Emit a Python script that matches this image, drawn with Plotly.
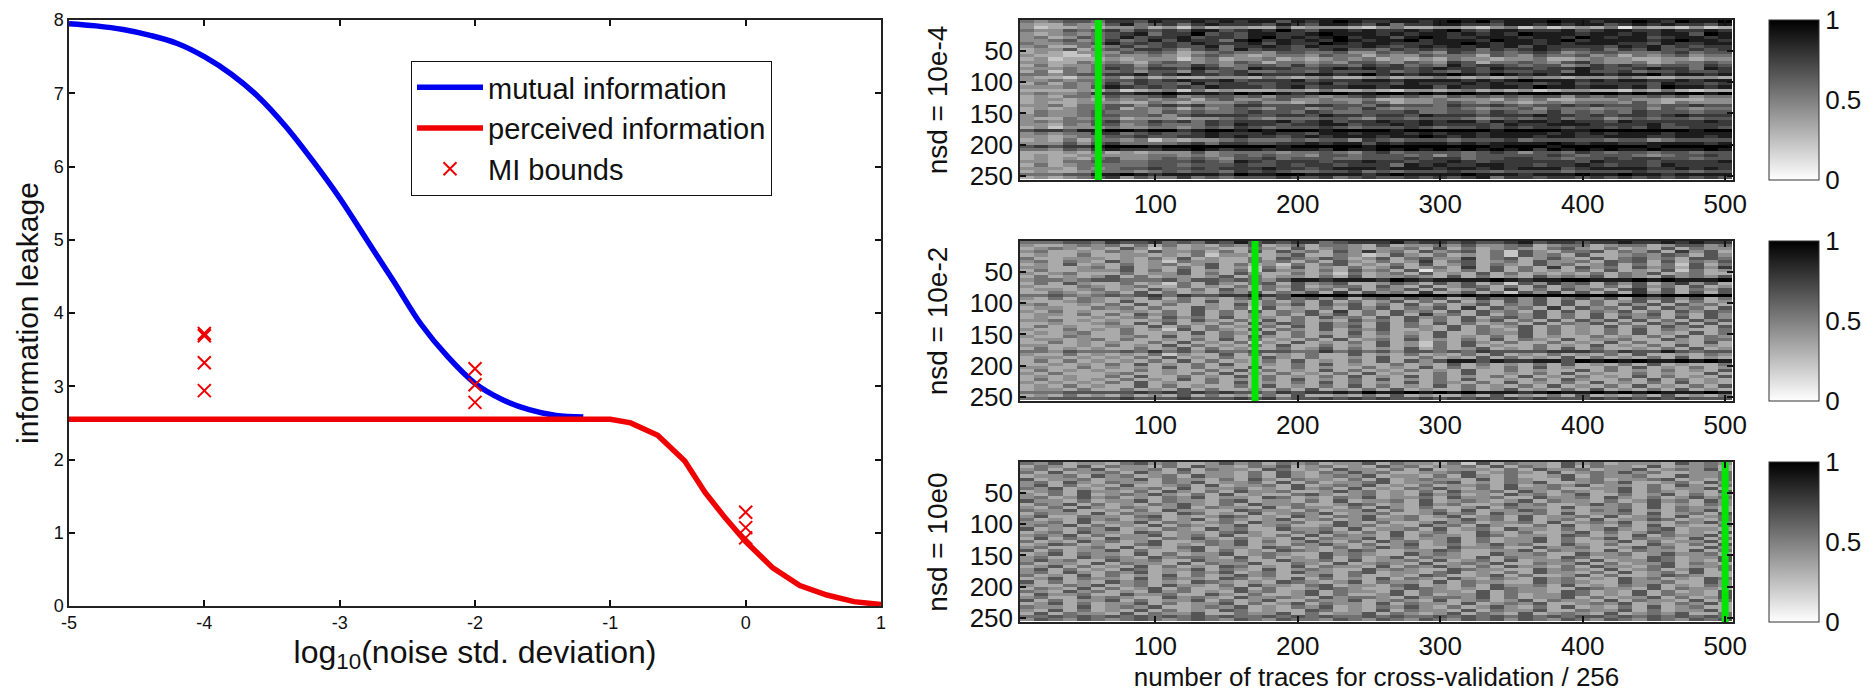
import plotly.graph_objects as go

W, H = 1874, 693
MR = 4

noise_x = [-5, -4.8, -4.6, -4.4, -4.2, -4, -3.8, -3.6, -3.4, -3.2, -3, -2.8, -2.6, -2.4, -2.2, -2, -1.8, -1.6, -1.4, -1.2]
mutual_info = [7.95, 7.92, 7.87, 7.79, 7.68, 7.5, 7.26, 6.95, 6.55, 6.08, 5.57, 5.0, 4.43, 3.85, 3.4, 3.04, 2.82, 2.68, 2.6, 2.58]
perceived_x = [-5, -4, -3, -2, -1.5, -1.2, -1, -0.85, -0.65, -0.45, -0.3, -0.15, 0, 0.2, 0.4, 0.6, 0.8, 1]
perceived_info = [2.55, 2.55, 2.55, 2.55, 2.55, 2.56, 2.55, 2.5, 2.33, 1.98, 1.55, 1.2, 0.88, 0.52, 0.28, 0.15, 0.06, 0.02]
bounds_x = [-4, -4, -4, -4, -2, -2, -2, 0, 0, 0]
bounds_y = [3.72, 3.69, 3.32, 2.94, 3.24, 3.02, 2.78, 1.28, 1.07, 0.93]

traces_x = [10 * k for k in range(1, 51)]
keys_y = [3 + 5 * k for k in range(51)]
green_pos = [60, 170, 500]
panel_labels = ["nsd = 10e-4", "nsd = 10e-2", "nsd = 10e0"]

# Grey levels, one digit per cell: 0 = white, 9 = black.
panel_a = [
"54566577687787878868789877887898978889887889879889",
"43354468567578777687688768577887768878788678787768",
"42334344534253443363444324533443245242343514332423",
"54465675767688678797688787787897688777867887787787",
"43454567857796768877898887878878787988878878788698",
"45346568677867768978789788689877888788798788678878",
"44564575686877589787879878897888798878978888789887",
"54455686767687778687798788777889878878788877687788",
"45335457567668577876877787678787878687777687867677",
"34463565776467586776678665767677576787667576866767",
"34324446565345655466556446565476565676456655567566",
"43322454454356543455465535446555365465564535456455",
"34233343444245344534345453434354434453345443344344",
"44335454356545465355454665465476355654675445345565",
"35344566465576456657566576756586776566457676566576",
"44454576577687658776678787767877687767787667877587",
"35254556466475675566576667567657676677586675667667",
"55456677867877678777887897878898798787888788978878",
"43324453534334443543453345344543434544344454334443",
"44545566767877867778677788788887878988878788778788",
"35354575766586776677786777687778787767867777687767",
"44454687676768777678677887888687788798878878698878",
"33334352345253433344353343244345343423443324353233",
"45445777889888798987899889989899898999889989889989",
"34355465567456656466545676565465656566465655656455",
"34434354545535644564454453344544435453344454433344",
"34334443354344456443455465344565454345455546435444",
"44535566467675577666776657666576676566767666566766",
"34345563545354565466456575455565455646554556465455",
"35445655546565567665765566675566576557565657666566",
"45445665564677776677687767768777677787767677678777",
"43354553444344565455566546656665456567566456566566",
"45455675576757677786786778778788687887877687777787",
"44354664565557687767788677878777768778887777867777",
"34244454455456576566676566676566767677677676866776",
"67768899899789989899989999899999989999889999999899",
"45455775676678777877688788878788788887878788878888",
"44345566766778787767878887889878788878877888778878",
"34353554524344565556566476566656667566666566456666",
"44464675555675776677878868788878788889878877888878",
"67677899989999999989999989999999989998999999899999",
"55465787778898788788879889898989898979898988988898",
"33343534344464555545565467566665676466576566566566",
"34334444455454565655466566656465666667656665456676",
"34343564456565466756665566676775667766566767766566",
"44355665566676587677767787767787677777768777677778",
"35345555566566676676776777587877887767787677687777",
"44435456676676777877678887888788787888678888778787",
"34334555456566576765566756566676656666566667666566",
"55566889878888798899888878988889888788898898878888",
"34345674655756566676675676676767857767767676767676",
]

panel_b = [
"55566576675657686767756777867767667867767787787877",
"43345453535343546345355436344546445634553455346645",
"34543436424344335436345434453635345435643534363544",
"45334354364453536364536474536456352643556354637463",
"34335334434352443346335423643534352645363345465364",
"53344434353634335365465346356447356346436356453665",
"45354364342544335453536435347356345364453656363546",
"34363435345346353425356343536346354364534635352635",
"44334536343536342536343534634537363537364536453647",
"35334446353634352644353645361435363534353634362534",
"43453335344635364335342534536343635343435354634533",
"35343463534434635344353634454363534364546354364546",
"45545665556466565468878887987888898788998889898889",
"35364335342536435636456334653646352647563646357463",
"43335434533534353546345536436346535363543536453634",
"34434534364353643536453635463634637353645367363546",
"33543453635343546354637364537346352647363637463636",
"55654565675766778769999899999989899999999999899999",
"43535434363534356465646356465634756463564636564635",
"33345436334536343535363534635363536463635346363534",
"45334353635334363546364635363534635463635364636453",
"34433545353364352634353646354637364537364536364536",
"43534334435363536354637353645363645363635463536465",
"34435353645363534353646353637453635463536354635364",
"34333434536453634435364536364536356463536364536364",
"44534343345364353635343645363536463536364636353646",
"33433453636343536465364536353635345363546353646363",
"35343344363535343536364636354363534635343635364636",
"43353435342635436354363546334363543635343536354335",
"34345335334363543635343635343633544635343536343635",
"43354334536343536435363534353634353634335343536354",
"34434535334353635343536345363435363543634453364355",
"33534343353634352436343536342536435335343635334363",
"44334353436353435363353436342536343353436343536343",
"35343433534635343353463534363534634353635334353634",
"55465556575646556665575656466565766667776576686566",
"43353434352433635343533634353435363435343536334354",
"34434343536343533643533436335343635343635343536343",
"35353434353635343536343536364688687788698989889898",
"33434353634353633435363433534363534353634353634335",
"44335343436353436335343353436353435363433536343534",
"35343433534335363534363534353436335343363534353436",
"43533345334353634353435363433536334353634335343363",
"34343353633534363534353634363534353634353436353436",
"35343435343635343536343536343536334353643353635343",
"43434353634335363435363534363543536343536343536343",
"34353433635343353634353635343635343536343536343536",
"34435335343635334353634353634335346343536343536343",
"55566666767676766576778798898989888789889898988898",
"34353435343635343536334353634335363435363435363435",
"55666667666766676756676767667676767676667676767666",
]

panel_c = [
"54634435645334645354534463544352635443645344436454",
"35436354435364435463453436453445363543635443634453",
"45354634453635443653436443536344435364453446345463",
"53634453643534435364354645334456345436345464533445",
"34453645345364435364345463443536435334635445336445",
"63445344635443536435443536345443635433645344563435",
"45364354435463445363534456344563435463345463345364",
"46353436334536344536345463435344536345463443536435",
"54634354453634453436453634354643536445334463534463",
"34536443536435364453346453435364453643543463543436",
"43536345464353634335643453436453436453463353463534",
"45346453435463443653435463445364453364453643534645",
"64435344635443563443536344536345434635443534645364",
"35463534354643536445334653436453346453346453634354",
"43536435434635443635443536435334635443634453635443",
"54463343536443365443534463534536344653435463435463",
"35443635443653436345463445334645364453634453634536",
"46335443563434653436435463453463453634453634536345",
"53436453453463543463453464453346453634536344653435",
"44536344635434536445336435334645344536345463435464",
"45463534363543463453346453436453643353634353634335",
"63435463435436453364453634453634536443534643563443",
"34536443653443564335464353634533643533463534653436",
"45463534463453634353635443635443653443653436354463",
"36354364435464353436354463534463534463534635443635",
"53436453463345463534643536453463534463533463534463",
"34653433563435463435464353463453464533643533643536",
"45334536343563443653435346453364453364453346453364",
"63534463533463534365434653344653344635443635443635",
"34635443635344634543364543364543364453364453464453",
"45336454364554363534363534635443635443653443653446",
"46453364453364453364453634453634536344536344653436",
"53443635443635446335436345436345463354463534463543",
"34635343635343653436354436354643536443536443563445",
"46353436534463543634543364543365443364543634534635",
"45364354634354634536443563443563435364435363453633",
"53436353436353464533463533436533463533463533465433",
"34635443635443653436353436354364354364534364534365",
"63534364534365434365434635443635443364543364453364",
"43354634536443536443563443563435364453634354634354",
"35436353463533463533465433465434365443365443635443",
"54364534364534364534635443635443635443653436353436",
"36445336445336435334635334635344635344653436354436",
"45336454336454364454364554364554635344635344635346",
"63534463534463534633544634543634534635443635443635",
"34635344635344635346354436354436345463345463435463",
"54436345463345463435463435464353464353634353634533",
"43635343635343653433653436354436354463354463534463",
"36354436354463354463534463543463543634543634546335",
"55656565656565655656565565655656565656566565656565",
"46546545654565465465546546546546564654654654654656",
]

panels = [panel_a, panel_b, panel_c]
tick_x = [100, 200, 300, 400, 500]
tick_y = [50, 100, 150, 200, 250]
tick_bar = [0, 0.5, 1]
tick_left_x = [-5, -4, -3, -2, -1, 0, 1]
tick_left_labels = ["-5", "-4", "-3", "-2", "-1", "0", "1"]
tick_left_y = [0, 1, 2, 3, 4, 5, 6, 7, 8]


def fx(a):
    return a / (W - MR)


def dom_x(a, b):
    return [fx(a), fx(b)]


def dom_y(top, bottom):
    return [1 - bottom / H, 1 - top / H]


FONT = "Liberation Sans"
frame = dict(showline=True, linecolor="#222", linewidth=1.5, mirror="allticks", ticks="inside",
             ticklen=6, tickcolor="#111", tickwidth=1.5, showgrid=False, zeroline=False, automargin=False)

fig = go.Figure()
fig.add_trace(go.Scatter(x=noise_x, y=mutual_info, mode="lines", name="mutual information",
                         line=dict(color="#0000f0", width=5.5, shape="spline"), xaxis="x", yaxis="y"))
fig.add_trace(go.Scatter(x=perceived_x, y=perceived_info, mode="lines", name="perceived information",
                         line=dict(color="#f00000", width=5.5), xaxis="x", yaxis="y"))
fig.add_trace(go.Scatter(x=bounds_x, y=bounds_y, mode="markers", name="MI bounds",
                         marker=dict(symbol="x-thin", size=13, line=dict(color="#f00000", width=2)),
                         xaxis="x", yaxis="y"))

layout = dict(
    width=W, height=H, margin=dict(l=0, r=MR, t=0, b=0), paper_bgcolor="white", plot_bgcolor="white",
    font=dict(family=FONT, color="#111"),
    legend=dict(x=fx(411), y=1 - 61 / H, xanchor="left", yanchor="top", bgcolor="white",
                bordercolor="#111", borderwidth=1, font=dict(size=29, family=FONT), itemwidth=66,
                entrywidthmode="pixels", entrywidth=300, tracegroupgap=0),
    xaxis=dict(domain=dom_x(69, 881), range=[-5, 1], tickvals=tick_left_x, ticktext=tick_left_labels,
               tickfont=dict(size=18),
               title=dict(text="log<sub>10</sub>(noise std. deviation)", font=dict(size=32), standoff=8), **frame),
    yaxis=dict(domain=dom_y(20, 606), range=[0, 8], tickvals=tick_left_y, tickfont=dict(size=18),
               title=dict(text="information leakage", font=dict(size=30), standoff=6), **frame),
)

tops = [(20, 180), (241, 401), (462, 622)]
for i, (panel, (top, bottom)) in enumerate(zip(panels, tops)):
    ax = i + 2
    z = [[int(c) / 9 for c in row[:50].ljust(50, row[-1])] for row in panel]
    fig.add_trace(go.Heatmap(
        x=traces_x, y=keys_y, z=z, zmin=0, zmax=1, xaxis=f"x{ax}", yaxis=f"y{ax}",
        colorscale=[[0, "#ffffff"], [1, "#000000"]],
        colorbar=dict(x=fx(1769), xanchor="left", xpad=0, ypad=0, thickness=50, thicknessmode="pixels",
                      lenmode="pixels", len=bottom - top, y=1 - top / H, yanchor="top",
                      tickvals=tick_bar, ticktext=["0", "0.5", "1"], ticks="", outlinecolor="#333",
                      outlinewidth=1, tickfont=dict(size=26, family=FONT)),
    ))
    fig.add_trace(go.Scatter(x=[green_pos[i], green_pos[i]], y=[0.5, 256.5], mode="lines", showlegend=False,
                             line=dict(color="#00e600", width=7), xaxis=f"x{ax}", yaxis=f"y{ax}"))
    xa = dict(domain=dom_x(1020, 1733), range=[5, 505.5], tickvals=tick_x, tickfont=dict(size=26),
              anchor=f"y{ax}", **frame)
    if i == 2:
        xa["title"] = dict(text="number of traces for cross-validation / 256", font=dict(size=26), standoff=8)
    layout[f"xaxis{ax}"] = xa
    layout[f"yaxis{ax}"] = dict(domain=dom_y(top, bottom), range=[256.5, 0.5], tickvals=tick_y,
                                tickfont=dict(size=26), anchor=f"x{ax}",
                                title=dict(text=panel_labels[i], font=dict(size=28), standoff=14), **frame)

fig.update_layout(**layout)
fig.write_html("out.html", config={"displayModeBar": False}, post_script="document.body.style.margin='0';")
